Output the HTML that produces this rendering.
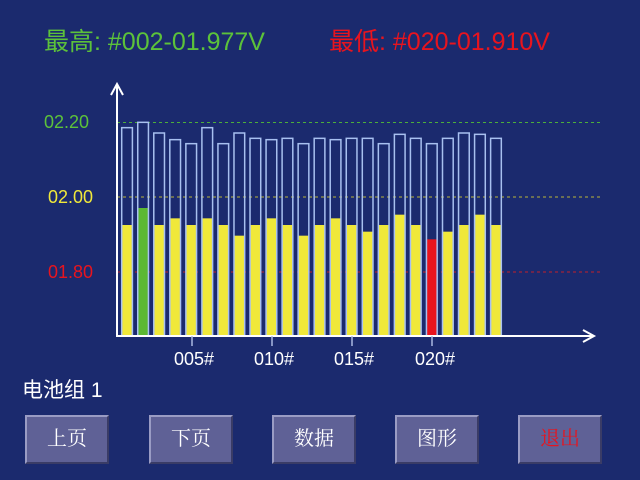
<!DOCTYPE html>
<html><head><meta charset="utf-8"><style>
body{margin:0;width:640px;height:480px;background:#1b2a6e;overflow:hidden;position:relative;font-family:"Liberation Sans","Noto Sans CJK SC",sans-serif}
.t{position:absolute;white-space:nowrap}
.btn{position:absolute;top:415px;width:84px;height:49px;background:#5f6196;border-top:2px solid #9a9cc4;border-left:2px solid #9a9cc4;border-right:2px solid #3a3c66;border-bottom:2px solid #3a3c66;box-sizing:border-box;color:#fff;font-family:"Liberation Serif","Noto Serif CJK SC",serif;font-size:20px;text-align:center;line-height:45px}
</style></head><body>
<div class="t" style="left:44px;top:22px;font-size:25px;color:#5cc23a">最高: #002-01.977V</div>
<div class="t" style="left:329px;top:22px;font-size:25px;color:#e8141e">最低: #020-01.910V</div>
<div class="t" style="left:44px;top:112px;font-size:18px;color:#5cc23a">02.20</div>
<div class="t" style="left:48px;top:187px;font-size:18px;color:#f0e83a">02.00</div>
<div class="t" style="left:48px;top:262px;font-size:18px;color:#e8141e">01.80</div>
<div class="t" style="left:22px;top:374px;font-size:21px;color:#fff">电池组 1</div>
<svg width="640" height="480" style="position:absolute;left:0;top:0">
<line x1="117" y1="122.5" x2="600" y2="122.5" stroke="#4caf3a" stroke-dasharray="3,3" stroke-width="1"/>
<line x1="117" y1="197" x2="600" y2="197" stroke="#b8b43a" stroke-dasharray="3,3" stroke-width="1"/>
<line x1="117" y1="272" x2="600" y2="272" stroke="#c0202a" stroke-dasharray="3,3" stroke-width="1"/>
<g id="bars"></g>
<g stroke="#fff" stroke-width="2" fill="none">
<line x1="117" y1="84" x2="117" y2="337"/>
<polyline points="111,95 117,84 123,95"/>
<line x1="116" y1="336" x2="594" y2="336"/>
<polyline points="583,330 594,336 583,342"/>
</g>
<g stroke="#aab8e0" stroke-width="1.5">
<line x1="192" y1="336" x2="192" y2="346"/><line x1="272" y1="336" x2="272" y2="346"/><line x1="352" y1="336" x2="352" y2="346"/><line x1="432" y1="336" x2="432" y2="346"/>
</g>
<g fill="#fff" font-size="18" text-anchor="middle" font-family="Liberation Sans,sans-serif">
<text x="194" y="365">005#</text><text x="274" y="365">010#</text><text x="354" y="365">015#</text><text x="435" y="365">020#</text>
</g>
</svg>
<div class="btn" style="left:25px">上页</div>
<div class="btn" style="left:149px">下页</div>
<div class="btn" style="left:272px">数据</div>
<div class="btn" style="left:395px">图形</div>
<div class="btn" style="left:518px;color:#e8141e">退出</div>
<script>
var o=[143,127,159,179,191,143,191,159,175,179,175,191,175,179,175,175,191,163,175,191,175,159,163,175];
var f=[435,384,435,415,435,415,435,467,435,415,435,467,435,415,435,455,435,404,435,478,455,435,404,435];
var s='';
for(var i=0;i<24;i++){var x=121.7+16.04*i,w=10.7,ot=80+o[i]/3,ft=80+f[i]/3;
var c=i==1?'#5cb832':(i==19?'#e8141e':'#f0e83a');
s+='<rect x="'+x+'" y="'+ft+'" width="'+w+'" height="'+(336-ft)+'" fill="'+c+'"/>';
s+='<rect x="'+x+'" y="'+ot+'" width="'+w+'" height="'+(336-ot)+'" fill="none" stroke="#a8c0f0" stroke-width="1.5"/>';}
document.getElementById('bars').innerHTML=s;
</script>
</body></html>
